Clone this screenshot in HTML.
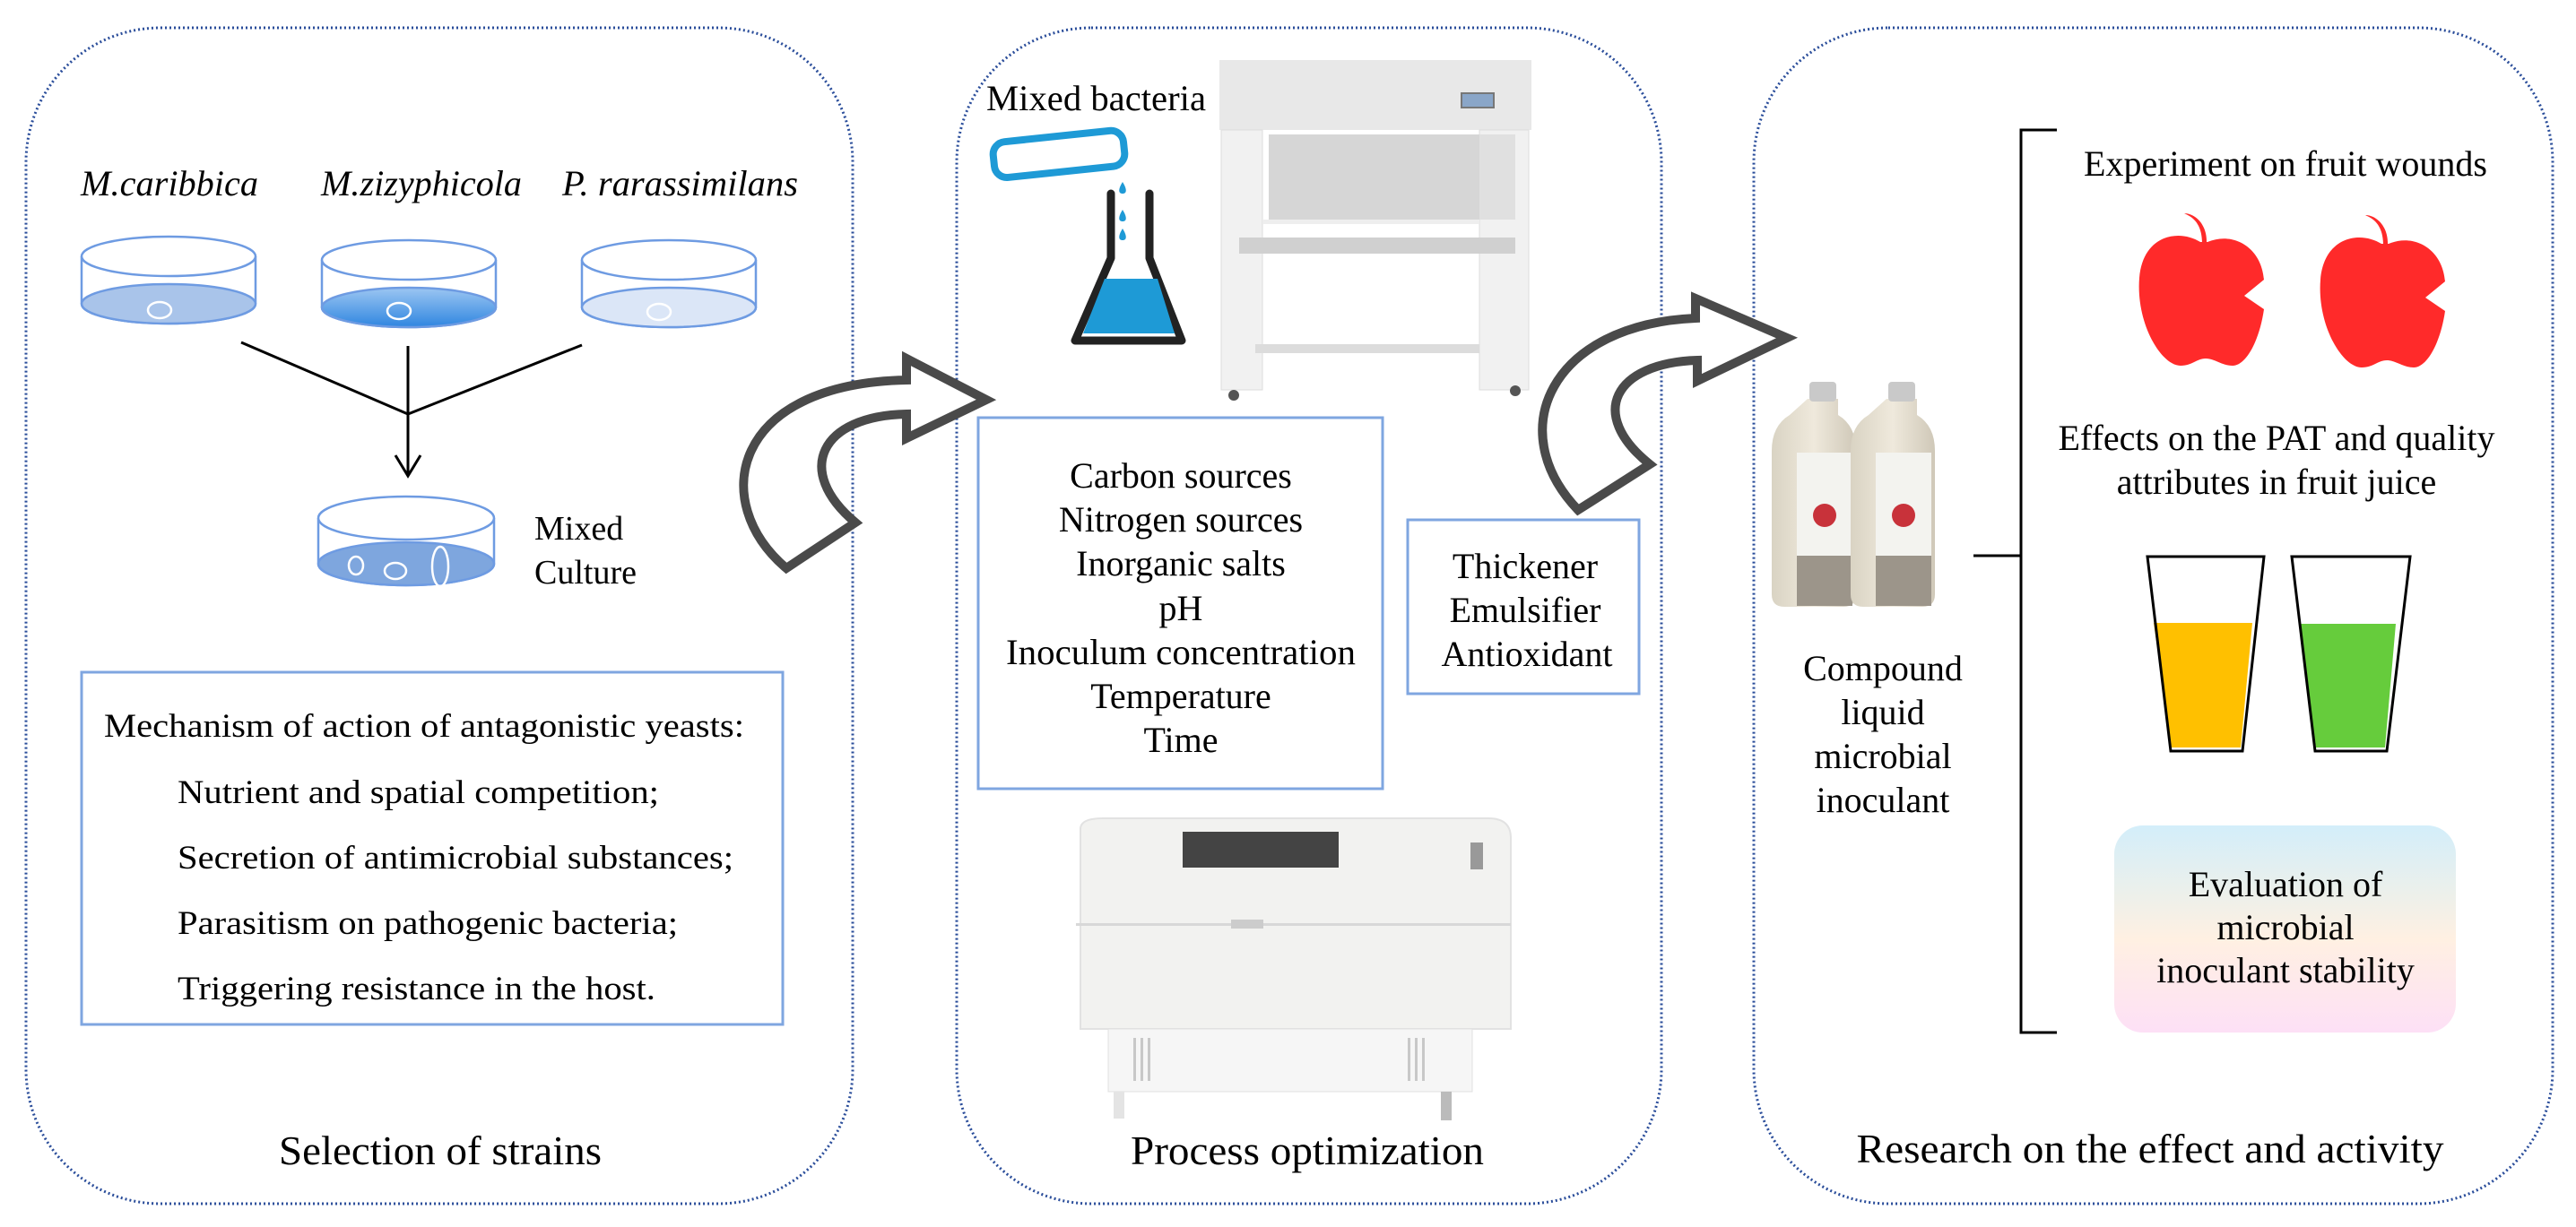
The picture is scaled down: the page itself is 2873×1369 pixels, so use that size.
<!DOCTYPE html>
<html><head><meta charset="utf-8"><style>html,body{margin:0;padding:0;background:#fff}svg{display:block}svg text{font-family:"Liberation Serif","Times New Roman",serif}</style></head>
<body>
<svg width="2873" height="1369" viewBox="0 0 2873 1369" xmlns="http://www.w3.org/2000/svg" style="font-family:'Liberation Serif',serif" fill="#000">
<defs>
<linearGradient id="d2" x1="0" y1="0" x2="0" y2="1"><stop offset="0" stop-color="#9cc6f2"/><stop offset="1" stop-color="#2f86e0"/></linearGradient>
<linearGradient id="ev" x1="0" y1="0" x2="0" y2="1"><stop offset="0" stop-color="#d3eefa"/><stop offset="0.35" stop-color="#eef0ea"/><stop offset="0.55" stop-color="#fff0e2"/><stop offset="1" stop-color="#fde0f6"/></linearGradient>
<linearGradient id="bot" x1="0" y1="0" x2="1" y2="0"><stop offset="0" stop-color="#d9d3c3"/><stop offset="0.5" stop-color="#efe9dc"/><stop offset="1" stop-color="#cfc8b8"/></linearGradient>
</defs>
<g fill="none" stroke="#2a4d9a" stroke-width="3" stroke-dasharray="2 3">
<rect x="29" y="31" width="922" height="1312" rx="150"/>
<rect x="1067" y="31" width="786" height="1312" rx="150"/>
<rect x="1956" y="31" width="891" height="1312" rx="150"/>
</g>
<g font-style="italic" font-size="40">
<text x="90" y="218" textLength="198" lengthAdjust="spacingAndGlyphs">M.caribbica</text>
<text x="358" y="218" textLength="224" lengthAdjust="spacingAndGlyphs">M.zizyphicola</text>
<text x="627" y="218" textLength="263" lengthAdjust="spacingAndGlyphs">P. rarassimilans</text>
</g>
<g stroke="#6e9be2" stroke-width="2.5">
<path d="M91,286 V339 A97,22 0 0 0 285,339 V286" fill="#fff"/>
<ellipse cx="188" cy="339" rx="97" ry="22" fill="#a9c4ea"/>
<ellipse cx="188" cy="286" rx="97" ry="22" fill="#fff"/>
<path d="M359,290 V343 A97,22 0 0 0 553,343 V290" fill="#fff"/>
<ellipse cx="456" cy="343" rx="97" ry="22" fill="url(#d2)"/>
<ellipse cx="456" cy="290" rx="97" ry="22" fill="#fff"/>
<path d="M649,290 V343 A97,22 0 0 0 843,343 V290" fill="#fff"/>
<ellipse cx="746" cy="343" rx="97" ry="22" fill="#dbe6f7"/>
<ellipse cx="746" cy="290" rx="97" ry="22" fill="#fff"/>
<path d="M355,578 V629 A98,24 0 0 0 551,629 V578" fill="#fff"/>
<ellipse cx="453" cy="629" rx="98" ry="24" fill="#7ea6de"/>
<ellipse cx="453" cy="578" rx="98" ry="24" fill="#fff"/>
</g>
<g fill="none" stroke="#fff" stroke-width="2.5">
<ellipse cx="178" cy="346" rx="13" ry="9"/>
<ellipse cx="445" cy="347" rx="13" ry="9"/>
<ellipse cx="735" cy="348" rx="13" ry="9"/>
<ellipse cx="397" cy="631" rx="8" ry="10"/>
<ellipse cx="441" cy="637" rx="12" ry="9"/>
<ellipse cx="491" cy="632" rx="9" ry="22"/>
</g>
<g stroke="#000" stroke-width="3" fill="none">
<path d="M269,382 L455,462 L649,385"/>
<path d="M455,386 V531"/>
<path d="M441,508 L455,531 L469,508"/>
</g>
<text x="596" y="602" font-size="38">Mixed</text>
<text x="596" y="651" font-size="38">Culture</text>
<rect x="91" y="750" width="782" height="393" fill="none" stroke="#7fa6e0" stroke-width="3"/>
<g font-size="37">
<text x="116" y="822" textLength="714" lengthAdjust="spacingAndGlyphs">Mechanism of action of antagonistic yeasts:</text>
<text x="198" y="896" textLength="537" lengthAdjust="spacingAndGlyphs">Nutrient and spatial competition;</text>
<text x="198" y="969" textLength="620" lengthAdjust="spacingAndGlyphs">Secretion of antimicrobial substances;</text>
<text x="198" y="1042" textLength="558" lengthAdjust="spacingAndGlyphs">Parasitism on pathogenic bacteria;</text>
<text x="198" y="1115" textLength="533" lengthAdjust="spacingAndGlyphs">Triggering resistance in the host.</text>
</g>
<text x="491" y="1299" font-size="46" text-anchor="middle" textLength="360" lengthAdjust="spacingAndGlyphs">Selection of strains</text>
<path d="M877,634 C790,560 815,428 1011,424 L1011,400 L1100,446 L1011,489 L1011,462 C915,464 885,525 954,583 Z" fill="#fff" stroke="#4a4a4a" stroke-width="10" stroke-linejoin="miter"/>
<path d="M1760,569 C1675,480 1730,362 1891,355 L1891,333 L1993,377 L1893,425 L1893,402 C1800,405 1770,462 1840,518 Z" fill="#fff" stroke="#4a4a4a" stroke-width="10" stroke-linejoin="miter"/>
<text x="1100" y="123" font-size="40" textLength="245" lengthAdjust="spacingAndGlyphs">Mixed bacteria</text>
<g>
<rect x="1108" y="152" width="146" height="40" rx="14" fill="#fff" stroke="#1e9ad6" stroke-width="8" transform="rotate(-6 1180 172)"/>
<path d="M1252,203 c-5,8 -5,13 0,13 c5,0 5,-5 0,-13 Z" fill="#1e9ad6"/>
<path d="M1252,234 c-5,8 -5,13 0,13 c5,0 5,-5 0,-13 Z" fill="#1e9ad6"/>
<path d="M1252,255 c-5,8 -5,13 0,13 c5,0 5,-5 0,-13 Z" fill="#1e9ad6"/>
<path d="M1239,216 V288 L1199,380 H1318 L1282,288 V216" fill="none" stroke="#222" stroke-width="9" stroke-linejoin="round" stroke-linecap="round"/>
<path d="M1232,311 H1291 L1310,372 H1208 Z" fill="#1e9ad6"/>
</g>
<g>
<rect x="1360" y="67" width="348" height="78" fill="#e8e8e8"/>
<rect x="1630" y="104" width="36" height="16" fill="#8aa6c8" stroke="#777" stroke-width="2"/>
<rect x="1362" y="145" width="46" height="290" fill="#f1f1f1" stroke="#ddd"/>
<rect x="1650" y="145" width="55" height="290" fill="#f1f1f1" stroke="#ddd"/>
<rect x="1415" y="150" width="235" height="95" fill="#d6d6d6"/>
<rect x="1650" y="150" width="40" height="95" fill="#e0e0e0"/>
<rect x="1408" y="245" width="242" height="5" fill="#eee"/>
<rect x="1382" y="265" width="308" height="18" fill="#d0d0d0"/>
<rect x="1400" y="384" width="250" height="10" fill="#dcdcdc"/>
<circle cx="1376" cy="441" r="6" fill="#555"/>
<circle cx="1690" cy="436" r="6" fill="#555"/>
</g>
<rect x="1091" y="466" width="451" height="414" fill="none" stroke="#7fa6e0" stroke-width="3"/>
<g font-size="40" text-anchor="middle">
<text x="1317" y="544">Carbon sources</text>
<text x="1317" y="593">Nitrogen sources</text>
<text x="1317" y="642">Inorganic salts</text>
<text x="1317" y="692">pH</text>
<text x="1317" y="741" textLength="390" lengthAdjust="spacingAndGlyphs">Inoculum concentration</text>
<text x="1317" y="790">Temperature</text>
<text x="1317" y="839">Time</text>
</g>
<rect x="1570" y="580" width="258" height="194" fill="none" stroke="#7fa6e0" stroke-width="3"/>
<g font-size="40" text-anchor="middle">
<text x="1701" y="645">Thickener</text>
<text x="1701" y="694">Emulsifier</text>
<text x="1703" y="743">Antioxidant</text>
</g>
<g>
<path d="M1205,925 Q1205,913 1230,913 H1660 Q1685,913 1685,935 V1148 H1205 Z" fill="#f2f2f0" stroke="#e2e2e2" stroke-width="2"/>
<rect x="1319" y="928" width="174" height="40" fill="#444"/>
<rect x="1200" y="1030" width="485" height="3" fill="#d8d8d8"/>
<rect x="1373" y="1026" width="36" height="10" fill="#ccc"/>
<rect x="1640" y="940" width="14" height="30" fill="#999"/>
<rect x="1236" y="1148" width="406" height="70" fill="#f6f6f6" stroke="#e0e0e0"/>
<g fill="#c8c8c8"><rect x="1264" y="1158" width="3" height="48"/><rect x="1272" y="1158" width="3" height="48"/><rect x="1280" y="1158" width="3" height="48"/><rect x="1570" y="1158" width="3" height="48"/><rect x="1578" y="1158" width="3" height="48"/><rect x="1586" y="1158" width="3" height="48"/></g>
<rect x="1242" y="1218" width="12" height="30" fill="#e4e4e4"/>
<rect x="1607" y="1218" width="12" height="32" fill="#bbb"/>
</g>
<text x="1458" y="1299" font-size="46" text-anchor="middle" textLength="394" lengthAdjust="spacingAndGlyphs">Process optimization</text>
<g>
<path d="M2016,445 h34 v18 q20,12 20,40 v160 q0,14 -14,14 h-66 q-14,0 -14,-14 v-160 q0,-28 20,-40 z" fill="url(#bot)"/>
<rect x="2004" y="505" width="62" height="115" fill="#f3f3ef"/>
<rect x="2004" y="620" width="62" height="56" fill="#9c958a"/>
<rect x="2018" y="426" width="30" height="22" rx="4" fill="#c9c9c9"/>
<circle cx="2035" cy="575" r="13" fill="#c8323a"/>
<path d="M2104,445 h34 v18 q20,12 20,40 v160 q0,14 -14,14 h-66 q-14,0 -14,-14 v-160 q0,-28 20,-40 z" fill="url(#bot)"/>
<rect x="2092" y="505" width="62" height="115" fill="#f3f3ef"/>
<rect x="2092" y="620" width="62" height="56" fill="#9c958a"/>
<rect x="2106" y="426" width="30" height="22" rx="4" fill="#c9c9c9"/>
<circle cx="2123" cy="575" r="13" fill="#c8323a"/>
</g>
<g font-size="40" text-anchor="middle">
<text x="2100" y="759">Compound</text>
<text x="2100" y="808">liquid</text>
<text x="2100" y="857">microbial</text>
<text x="2100" y="906">inoculant</text>
</g>
<g stroke="#000" stroke-width="3" fill="none">
<path d="M2294,145 H2254 V1152 H2294"/>
<path d="M2201,620 H2254"/>
</g>
<text x="2549" y="196" font-size="40" text-anchor="middle">Experiment on fruit wounds</text>
<g fill="#ff2a2a">
<path d="M2454,270 C2430,255 2390,262 2386,310 C2382,360 2410,408 2432,408 C2445,408 2450,400 2460,400 C2470,400 2478,408 2490,408 C2505,408 2520,380 2525,345 L2503,330 L2525,312 C2522,275 2490,258 2462,270 Z"/>
<path d="M2456,272 C2456,255 2450,245 2440,240 L2436,238 C2448,238 2462,250 2461,272 Z"/>
<path d="M2656,272 C2632,257 2592,264 2588,312 C2584,362 2612,410 2634,410 C2647,410 2652,402 2662,402 C2672,402 2680,410 2692,410 C2707,410 2722,382 2727,347 L2705,332 L2727,314 C2724,277 2692,260 2664,272 Z"/>
<path d="M2658,274 C2658,257 2652,247 2642,242 L2638,240 C2650,240 2664,252 2663,274 Z"/>
</g>
<g font-size="40" text-anchor="middle">
<text x="2539" y="502">Effects on the PAT and quality</text>
<text x="2539" y="551">attributes in fruit juice</text>
</g>
<path d="M2402,695 H2512 L2499,834 H2422 Z" fill="#ffc000"/>
<path d="M2564,696 H2672 L2660,834 H2583 Z" fill="#66cc3c"/>
<g fill="none" stroke="#000" stroke-width="3">
<path d="M2395,621 H2525 L2501,838 H2421 Z"/>
<path d="M2556,621 H2688 L2662,838 H2582 Z"/>
</g>
<rect x="2358" y="921" width="381" height="231" rx="32" fill="url(#ev)"/>
<g font-size="40" text-anchor="middle">
<text x="2549" y="1000">Evaluation of</text>
<text x="2549" y="1048">microbial</text>
<text x="2549" y="1096">inoculant stability</text>
</g>
<text x="2398" y="1297" font-size="46" text-anchor="middle" textLength="655" lengthAdjust="spacingAndGlyphs">Research on the effect and activity</text>
</svg>
</body></html>
